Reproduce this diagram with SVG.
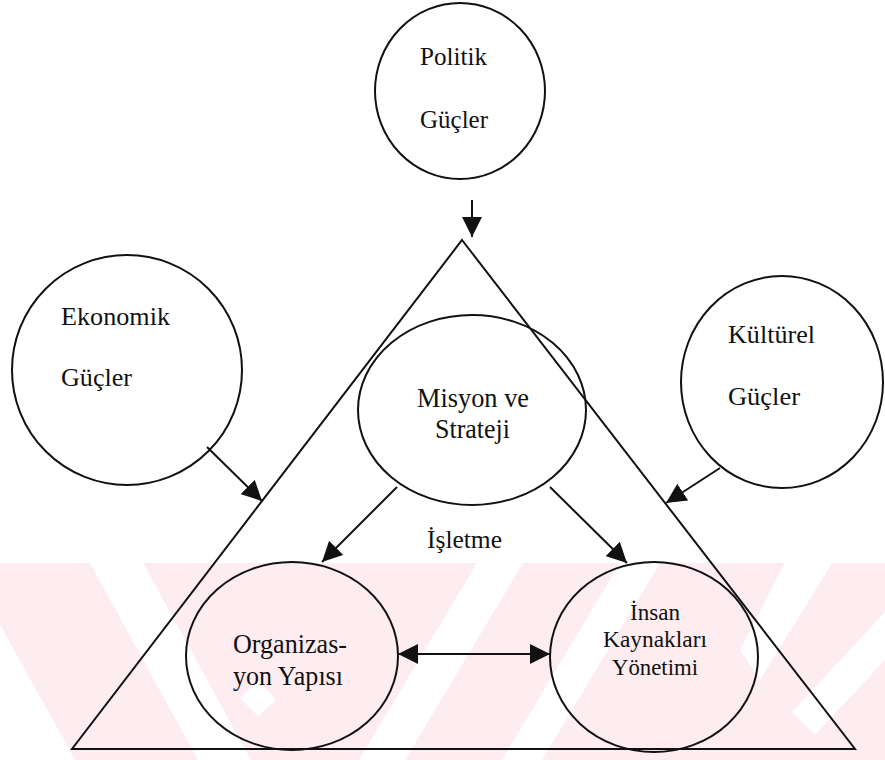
<svg xmlns="http://www.w3.org/2000/svg" width="885" height="760" viewBox="0 0 885 760">
  <defs>
    <style>
      .node { fill: none; stroke: #111; stroke-width: 2; }
      .edge { fill: none; stroke: #111; stroke-width: 2; }
      .lbl { font-family: "Liberation Serif", "Times New Roman", serif; fill: #111; }
      .wm { fill: #fdedf0; }
      .gap { fill: #ffffff; }
    </style>
    <marker id="arrow" viewBox="0 0 20 20" refX="20" refY="10" markerWidth="20" markerHeight="20" markerUnits="userSpaceOnUse" orient="auto-start-reverse">
      <path d="M0,0 L20,10 L0,20 z" fill="#111"/>
    </marker>
    <clipPath id="band">
      <rect x="0" y="563" width="885" height="197"/>
    </clipPath>
  </defs>

  <rect width="885" height="760" fill="#ffffff"/>

  <!-- faint striped backdrop along the lower edge -->
  <g id="backdrop" clip-path="url(#band)">
    <rect class="wm" x="0" y="563" width="885" height="197"/>
    <polygon class="gap" points="90,563 143,563 251,760 198,760"/>
    <polygon class="gap" points="0,625 0,760 75,760"/>
    <polygon class="gap" points="240,698 258,680 276,700 258,716"/>
    <polygon class="gap" points="477,563 523,563 405,760 359,760"/>
    <polygon class="gap" points="620,563 660,563 542,760 502,760"/>
    <polygon class="gap" points="785,563 832,563 760,680 740,650"/>
    <polygon class="gap" points="885,612 885,660 815,735 792,712"/>
  </g>

  <!-- outer triangle -->
  <g id="isletme">
    <polygon class="node" points="462,240 855,749 72,749"/>
    <text class="lbl" x="427" y="548" font-size="25" textLength="75" lengthAdjust="spacingAndGlyphs">İşletme</text>
  </g>

  <g id="politik">
    <ellipse class="node" cx="460" cy="91" rx="85" ry="88"/>
    <text class="lbl" x="420" y="65" font-size="26" textLength="67" lengthAdjust="spacingAndGlyphs">Politik</text>
    <text class="lbl" x="420" y="128" font-size="26" textLength="68" lengthAdjust="spacingAndGlyphs">Güçler</text>
  </g>

  <g id="ekonomik">
    <ellipse class="node" cx="127" cy="370" rx="115" ry="115"/>
    <text class="lbl" x="61" y="325" font-size="25" textLength="109" lengthAdjust="spacingAndGlyphs">Ekonomik</text>
    <text class="lbl" x="61" y="386" font-size="25" textLength="71" lengthAdjust="spacingAndGlyphs">Güçler</text>
  </g>

  <g id="kulturel">
    <ellipse class="node" cx="782" cy="382" rx="101" ry="106"/>
    <text class="lbl" x="728" y="343" font-size="25" textLength="87" lengthAdjust="spacingAndGlyphs">Kültürel</text>
    <text class="lbl" x="728" y="405" font-size="25" textLength="72" lengthAdjust="spacingAndGlyphs">Güçler</text>
  </g>

  <g id="misyon">
    <ellipse class="node" cx="472" cy="410" rx="114" ry="95"/>
    <text class="lbl" x="417" y="407" font-size="27" textLength="112" lengthAdjust="spacingAndGlyphs">Misyon ve</text>
    <text class="lbl" x="435" y="438" font-size="27" textLength="75" lengthAdjust="spacingAndGlyphs">Strateji</text>
  </g>

  <g id="organizasyon">
    <ellipse class="node" cx="292" cy="656" rx="106" ry="94"/>
    <text class="lbl" x="233" y="653" font-size="27" textLength="114" lengthAdjust="spacingAndGlyphs">Organizas-</text>
    <text class="lbl" x="233" y="685" font-size="27" textLength="110" lengthAdjust="spacingAndGlyphs">yon Yapısı</text>
  </g>

  <g id="insan">
    <ellipse class="node" cx="654" cy="657" rx="104" ry="95"/>
    <text class="lbl" x="630" y="620" font-size="23" textLength="50" lengthAdjust="spacingAndGlyphs">İnsan</text>
    <text class="lbl" x="603" y="647" font-size="23" textLength="104" lengthAdjust="spacingAndGlyphs">Kaynakları</text>
    <text class="lbl" x="612" y="675" font-size="23" textLength="86" lengthAdjust="spacingAndGlyphs">Yönetimi</text>
  </g>

  <g id="connectors">
    <line class="edge" x1="472" y1="200" x2="472" y2="237" marker-end="url(#arrow)"/>
    <line class="edge" x1="207" y1="447" x2="262" y2="501" marker-end="url(#arrow)"/>
    <line class="edge" x1="720" y1="468" x2="666" y2="503" marker-end="url(#arrow)"/>
    <line class="edge" x1="397" y1="487" x2="322" y2="562" marker-end="url(#arrow)"/>
    <line class="edge" x1="550" y1="487" x2="627" y2="563" marker-end="url(#arrow)"/>
    <line class="edge" x1="398" y1="654" x2="550" y2="654" marker-start="url(#arrow)" marker-end="url(#arrow)"/>
  </g>
</svg>
